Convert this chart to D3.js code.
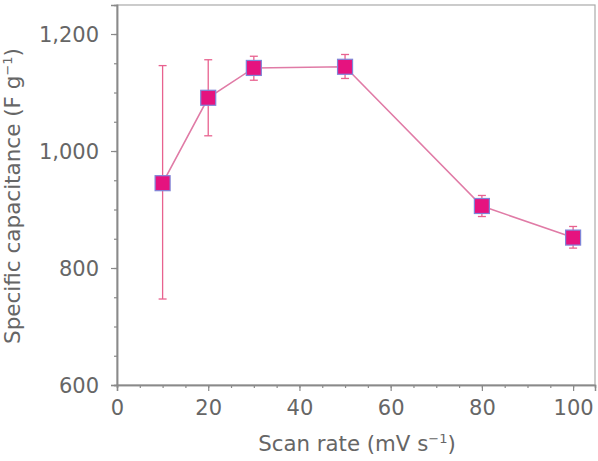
<html>
<head>
  <meta charset="utf-8">
  <script src="https://d3js.org/d3.v7.min.js"></script>
  <script>
    // scan rate (mV s-1) and specific capacitance (F g-1)
    var scanRate = [10, 20, 30, 50, 80, 100]
    var capacitance = [945, 1091, 1142, 1144, 906, 852]
    var errLow = [747, 1026, 1121, 1124, 888, 834]
    var errHigh = [1146, 1156, 1162, 1165, 924, 871]
    var xTicks = [0, 20, 40, 60, 80, 100]
    var yTicks = [600, 800, 1000, 1200]

    function makeChart() {
        var svg = d3.select( "#chart" )
        var m = { l: 117, t: 5, r: 3, b: 76 }
        var W = 598, H = 461
        var sx = d3.scaleLinear().domain( [0, 104.8] ).range( [m.l, W - m.r] )
        var sy = d3.scaleLinear().domain( [600, 1249.6] ).range( [H - m.b, m.t] )
        var pts = scanRate.map( (x,i) => ({ x: x, y: capacitance[i], lo: errLow[i], hi: errHigh[i] }) )
        var grey = "#8a8a8a", txt = "#666", font = "DejaVu Sans, sans-serif"

        // frame
        svg.append( "rect" ).attr( "x", m.l ).attr( "y", m.t )
            .attr( "width", W - m.r - m.l ).attr( "height", H - m.b - m.t )
            .attr( "fill", "none" ).attr( "stroke", "#aaa" ).attr( "stroke-width", 1.2 )

        // minor ticks
        svg.append( "g" ).attr( "transform", "translate(0," + (H - m.b) + ")" )
            .call( d3.axisBottom( sx ).tickValues( d3.range( 0, 101, 5 ) ).tickSize( 3 ).tickFormat( "" ) )
        svg.append( "g" ).attr( "transform", "translate(" + m.l + ",0)" )
            .call( d3.axisLeft( sy ).tickValues( d3.range( 600, 1201, 50 ) ).tickSize( 3 ).tickFormat( "" ) )
        // major ticks + labels
        var gx2 = svg.append( "g" ).attr( "transform", "translate(0," + (H - m.b) + ")" )
            .call( d3.axisBottom( sx ).tickValues( xTicks ).tickSize( 6 ).tickPadding( 9 ).tickFormat( d3.format( "d" ) ) )
        var gy2 = svg.append( "g" ).attr( "transform", "translate(" + m.l + ",0)" )
            .call( d3.axisLeft( sy ).tickValues( yTicks ).tickSize( 6 ).tickPadding( 12 ).tickFormat( d3.format( "," ) ) )

        svg.selectAll( ".domain" ).attr( "stroke", grey ).attr( "stroke-width", 1.5 )
        svg.selectAll( ".tick line" ).attr( "stroke", grey ).attr( "stroke-width", 1.2 )
        svg.selectAll( ".tick text" ).attr( "fill", txt ).attr( "font-size", 21 )
            .attr( "font-family", font )
        gx2.selectAll( ".tick text" ).attr( "dy", "0.73em" )
        gy2.selectAll( ".tick text" ).attr( "dy", "0.36em" )

        // connecting line
        svg.append( "path" ).datum( pts )
            .attr( "fill", "none" ).attr( "stroke", "#e07ba6" ).attr( "stroke-width", 1.6 )
            .attr( "d", d3.line().x( d=>sx(d.x) ).y( d=>sy(d.y) ) )

        // error bars
        var eb = svg.selectAll( "g.err" ).data( pts ).enter().append( "g" )
            .attr( "stroke", "#e8628f" ).attr( "stroke-width", 1.3 )
        eb.append( "line" ).attr( "x1", d=>sx(d.x) ).attr( "x2", d=>sx(d.x) )
            .attr( "y1", d=>sy(d.lo) ).attr( "y2", d=>sy(d.hi) )
        eb.append( "line" ).attr( "x1", d=>sx(d.x)-4 ).attr( "x2", d=>sx(d.x)+4 )
            .attr( "y1", d=>sy(d.lo) ).attr( "y2", d=>sy(d.lo) )
        eb.append( "line" ).attr( "x1", d=>sx(d.x)-4 ).attr( "x2", d=>sx(d.x)+4 )
            .attr( "y1", d=>sy(d.hi) ).attr( "y2", d=>sy(d.hi) )

        // markers
        svg.selectAll( "rect.pt" ).data( pts ).enter().append( "rect" )
            .attr( "x", d=>sx(d.x)-7.5 ).attr( "y", d=>sy(d.y)-7.5 )
            .attr( "width", 15 ).attr( "height", 15 )
            .attr( "fill", "#e5137f" ).attr( "stroke", "#7f86d8" ).attr( "stroke-width", 1.2 )

        // axis titles
        svg.append( "text" ).attr( "x", 357 ).attr( "y", 451 )
            .attr( "text-anchor", "middle" ).attr( "font-size", 21.3 ).attr( "fill", txt )
            .attr( "font-family", font )
            .html( "Scan rate (mV s<tspan dy='-8' font-size='13'>\u22121</tspan><tspan dy='8'>)</tspan>" )
        svg.append( "text" ).attr( "transform", "translate(20,196) rotate(-90)" )
            .attr( "text-anchor", "middle" ).attr( "font-size", 21.5 ).attr( "fill", txt )
            .attr( "font-family", font )
            .html( "Specific capacitance (F g<tspan dy='-8' font-size='13'>\u22121</tspan><tspan dy='8'>)</tspan>" )
    }
  </script>
</head>

<body onload="makeChart()" style="margin:0;background:white">
    <svg id="chart" width="598" height="461"></svg>
</body>
</html>
